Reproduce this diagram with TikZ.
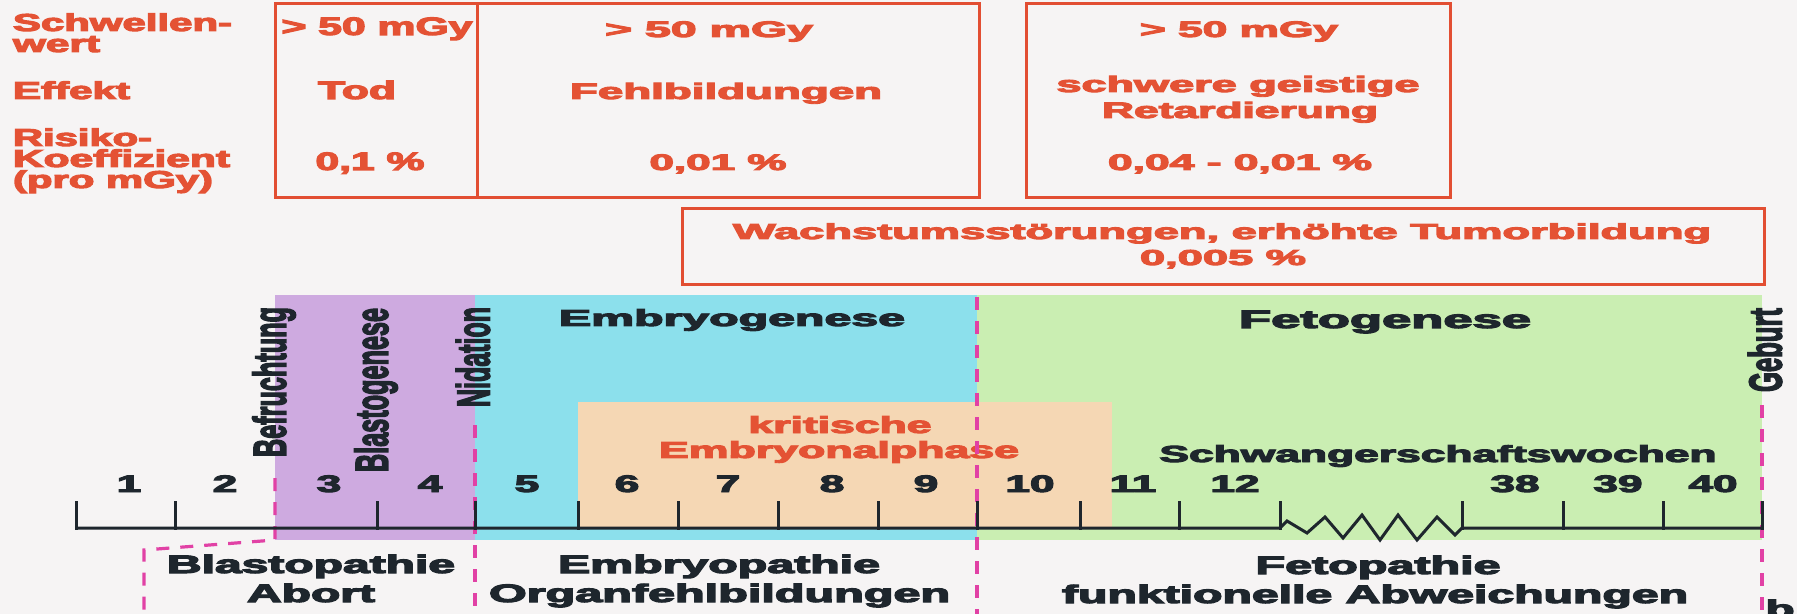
\documentclass[tikz,border=0pt]{standalone}
\usepackage{fontspec}
\setmainfont[BoldFeatures={FakeBold=4}]{Liberation Sans}
\usepackage{graphicx}
\newlength\pxu \setlength\pxu{0.5pt}
\newcommand\W[2]{\resizebox{#1\pxu}{\height}{#2}}
\newcommand\SX[2]{\scalebox{#1}[1]{#2}}
\definecolor{tred}{RGB}{228,82,52}
\definecolor{bred}{RGB}{226,78,50}
\definecolor{tblk}{RGB}{30,38,45}
\definecolor{mag}{RGB}{225,65,165}
\definecolor{cpurp}{RGB}{206,170,224}
\definecolor{ccyan}{RGB}{140,224,236}
\definecolor{cgreen}{RGB}{202,238,178}
\definecolor{cpeach}{RGB}{245,215,180}
\definecolor{bgc}{RGB}{246,244,244}
\tikzset{
  boxline/.style={draw=bred,line width=1.5pt},
  axisline/.style={draw=tblk,line width=1.5pt,line join=miter},
  magdash/.style={draw=mag,line width=1.6pt,dash pattern=on 6.5pt off 5.5pt},
  tx/.style={inner sep=0pt,outer sep=0pt,anchor=base},
  lab/.style={tx,anchor=base west,text=tred,font=\fontsize{12.2}{14}\selectfont\bfseries},
  bone/.style={tx,text=tred,font=\fontsize{12.6}{14}\selectfont\bfseries},
  btwo/.style={tx,text=tred,font=\fontsize{11.2}{13}\selectfont\bfseries},
  bwach/.style={tx,text=tred,font=\fontsize{10.8}{13}\selectfont\bfseries},
  band/.style={tx,text=tblk,font=\fontsize{11.6}{13}\selectfont\bfseries},
  krit/.style={tx,text=tred,font=\fontsize{11.6}{13}\selectfont\bfseries},
  num/.style={tx,text=tblk,font=\fontsize{11.9}{13}\selectfont\bfseries},
  bot/.style={tx,text=tblk,font=\fontsize{12.6}{14}\selectfont\bfseries},
  rot/.style={inner sep=0pt,outer sep=0pt,anchor=center,rotate=90,text=tblk,font=\fontsize{23}{26}\selectfont\bfseries}
}
\begin{document}
\begin{tikzpicture}[x=0.5pt,y=-0.5pt]
\fill[bgc] (0,0) rectangle (1797,614);
\useasboundingbox (0,0) rectangle (1797,614);

% coloured bands
\fill[cpurp] (275,295) rectangle (475,540);
\fill[ccyan] (475,295) rectangle (977,540);
\fill[cgreen] (977,295) rectangle (1762,540);
\fill[cpeach] (578,402) rectangle (1112,528);

% top boxes
\draw[boxline] (275,4) rectangle (477,198);
\draw[boxline] (477,4) rectangle (979,198);
\draw[boxline] (1026,4) rectangle (1450,198);
\draw[boxline] (682,209) rectangle (1764,285);

% left labels
\node[lab] (l1) at (13,31) {\W{219}{Schwellen-}};
\node[lab] (l2) at (13,52) {\W{87}{wert}};
\node[lab] (l3) at (13,99) {\W{117}{Effekt}};
\node[lab] (l4) at (13,146) {\W{139}{Risiko-}};
\node[lab] (l5) at (13,167) {\W{217}{Koeffizient}};
\node[lab] (l6) at (13,188) {\W{200}{(pro mGy)}};

% box 1
\node[bone] (a1) at (377,35) {\W{191}{> 50 mGy}};
\node[bone] (a2) at (357,99) {\W{78}{Tod}};
\node[bone] (a3) at (370,170) {\W{109}{0,1 \%}};
% box 2
\node[btwo] (b1) at (709,37) {\W{208}{> 50 mGy}};
\node[btwo] (b2) at (726,99) {\W{312}{Fehlbildungen}};
\node[btwo] (b3) at (718,170) {\W{137}{0,01 \%}};
% box 3
\node[btwo] (c1) at (1239,37) {\W{198}{> 50 mGy}};
\node[btwo] (c2) at (1238,92) {\W{363}{schwere geistige}};
\node[btwo] (c3) at (1240,118) {\W{276}{Retardierung}};
\node[btwo] (c4) at (1240,170) {\W{264}{0,04 - 0,01 \%}};
% growth box
\node[bwach] (w1) at (1222,239) {\W{978}{Wachstumsstörungen, erhöhte Tumorbildung}};
\node[bwach] (w2) at (1223,265) {\W{166}{0,005 \%}};

% band texts
\node[band] (e1) at (732,326) {\W{346}{Embryogenese}};
\node[band,font=\fontsize{12.6}{14}\selectfont\bfseries] (f1) at (1385,328) {\W{292}{Fetogenese}};
\node[krit] (k1) at (840,433) {\W{183}{kritische}};
\node[krit] (k2) at (839,458) {\W{360}{Embryonalphase}};
\node[band] (s1) at (1438,462) {\W{557}{Schwangerschaftswochen}};

% rotated labels
\node[rot] (r1) at (274,382) {\W{150}{Befruchtung}};
\node[rot] (r2) at (376,390) {\W{164}{Blastogenese}};
\node[rot] (r3) at (473,357) {\W{100}{Nidation}};
\node[rot] (r4) at (1765,350) {\W{84}{Geburt}};

% dashed magenta lines
\draw[magdash] (275,478) -- (275,540) -- (144,550) -- (144,614);
\draw[magdash] (475,425) -- (475,614);
\draw[magdash] (977,297) -- (977,614);
\draw[magdash] (1762,405) -- (1762,614);

% axis
\draw[axisline] (76,528) -- (1280,528) -- (1287,521) -- (1307,533) -- (1325,517) -- (1343,538) -- (1362,515) -- (1380,540) -- (1398,515) -- (1417,540) -- (1437,517) -- (1455,535) -- (1462,528) -- (1762,528);
\foreach \tx in {76,175,377,475,578,678,778,878,977,1080,1179,1280,1462,1563,1663,1762}
  \draw[axisline,line cap=rect] (\tx,502) -- (\tx,528);

% week numbers
\foreach \nx/\nl in {129/1,225/2,329/3,430/4,527/5,627/6,728/7,832/8,926/9,1030/10,1133/11,1235/12,1515/38,1618/39,1713/40}
  \node[num] (n\nl) at (\nx,492) {\SX{1.85}{\nl}};

% bottom texts
\node[bot] (p1) at (311,573) {\W{288}{Blastopathie}};
\node[bot] (p2) at (311,602) {\W{128}{Abort}};
\node[bot] (p3) at (719,573) {\W{322}{Embryopathie}};
\node[bot] (p4) at (719.5,602) {\W{461}{Organfehlbildungen}};
\node[bot] (p5) at (1378,574) {\W{245}{Fetopathie}};
\node[bot] (p6) at (1375,603) {\W{626}{funktionelle Abweichungen}};
\node[bot] (bb) at (1780,618) {\SX{1.9}{b}};
\end{tikzpicture}
\end{document}
